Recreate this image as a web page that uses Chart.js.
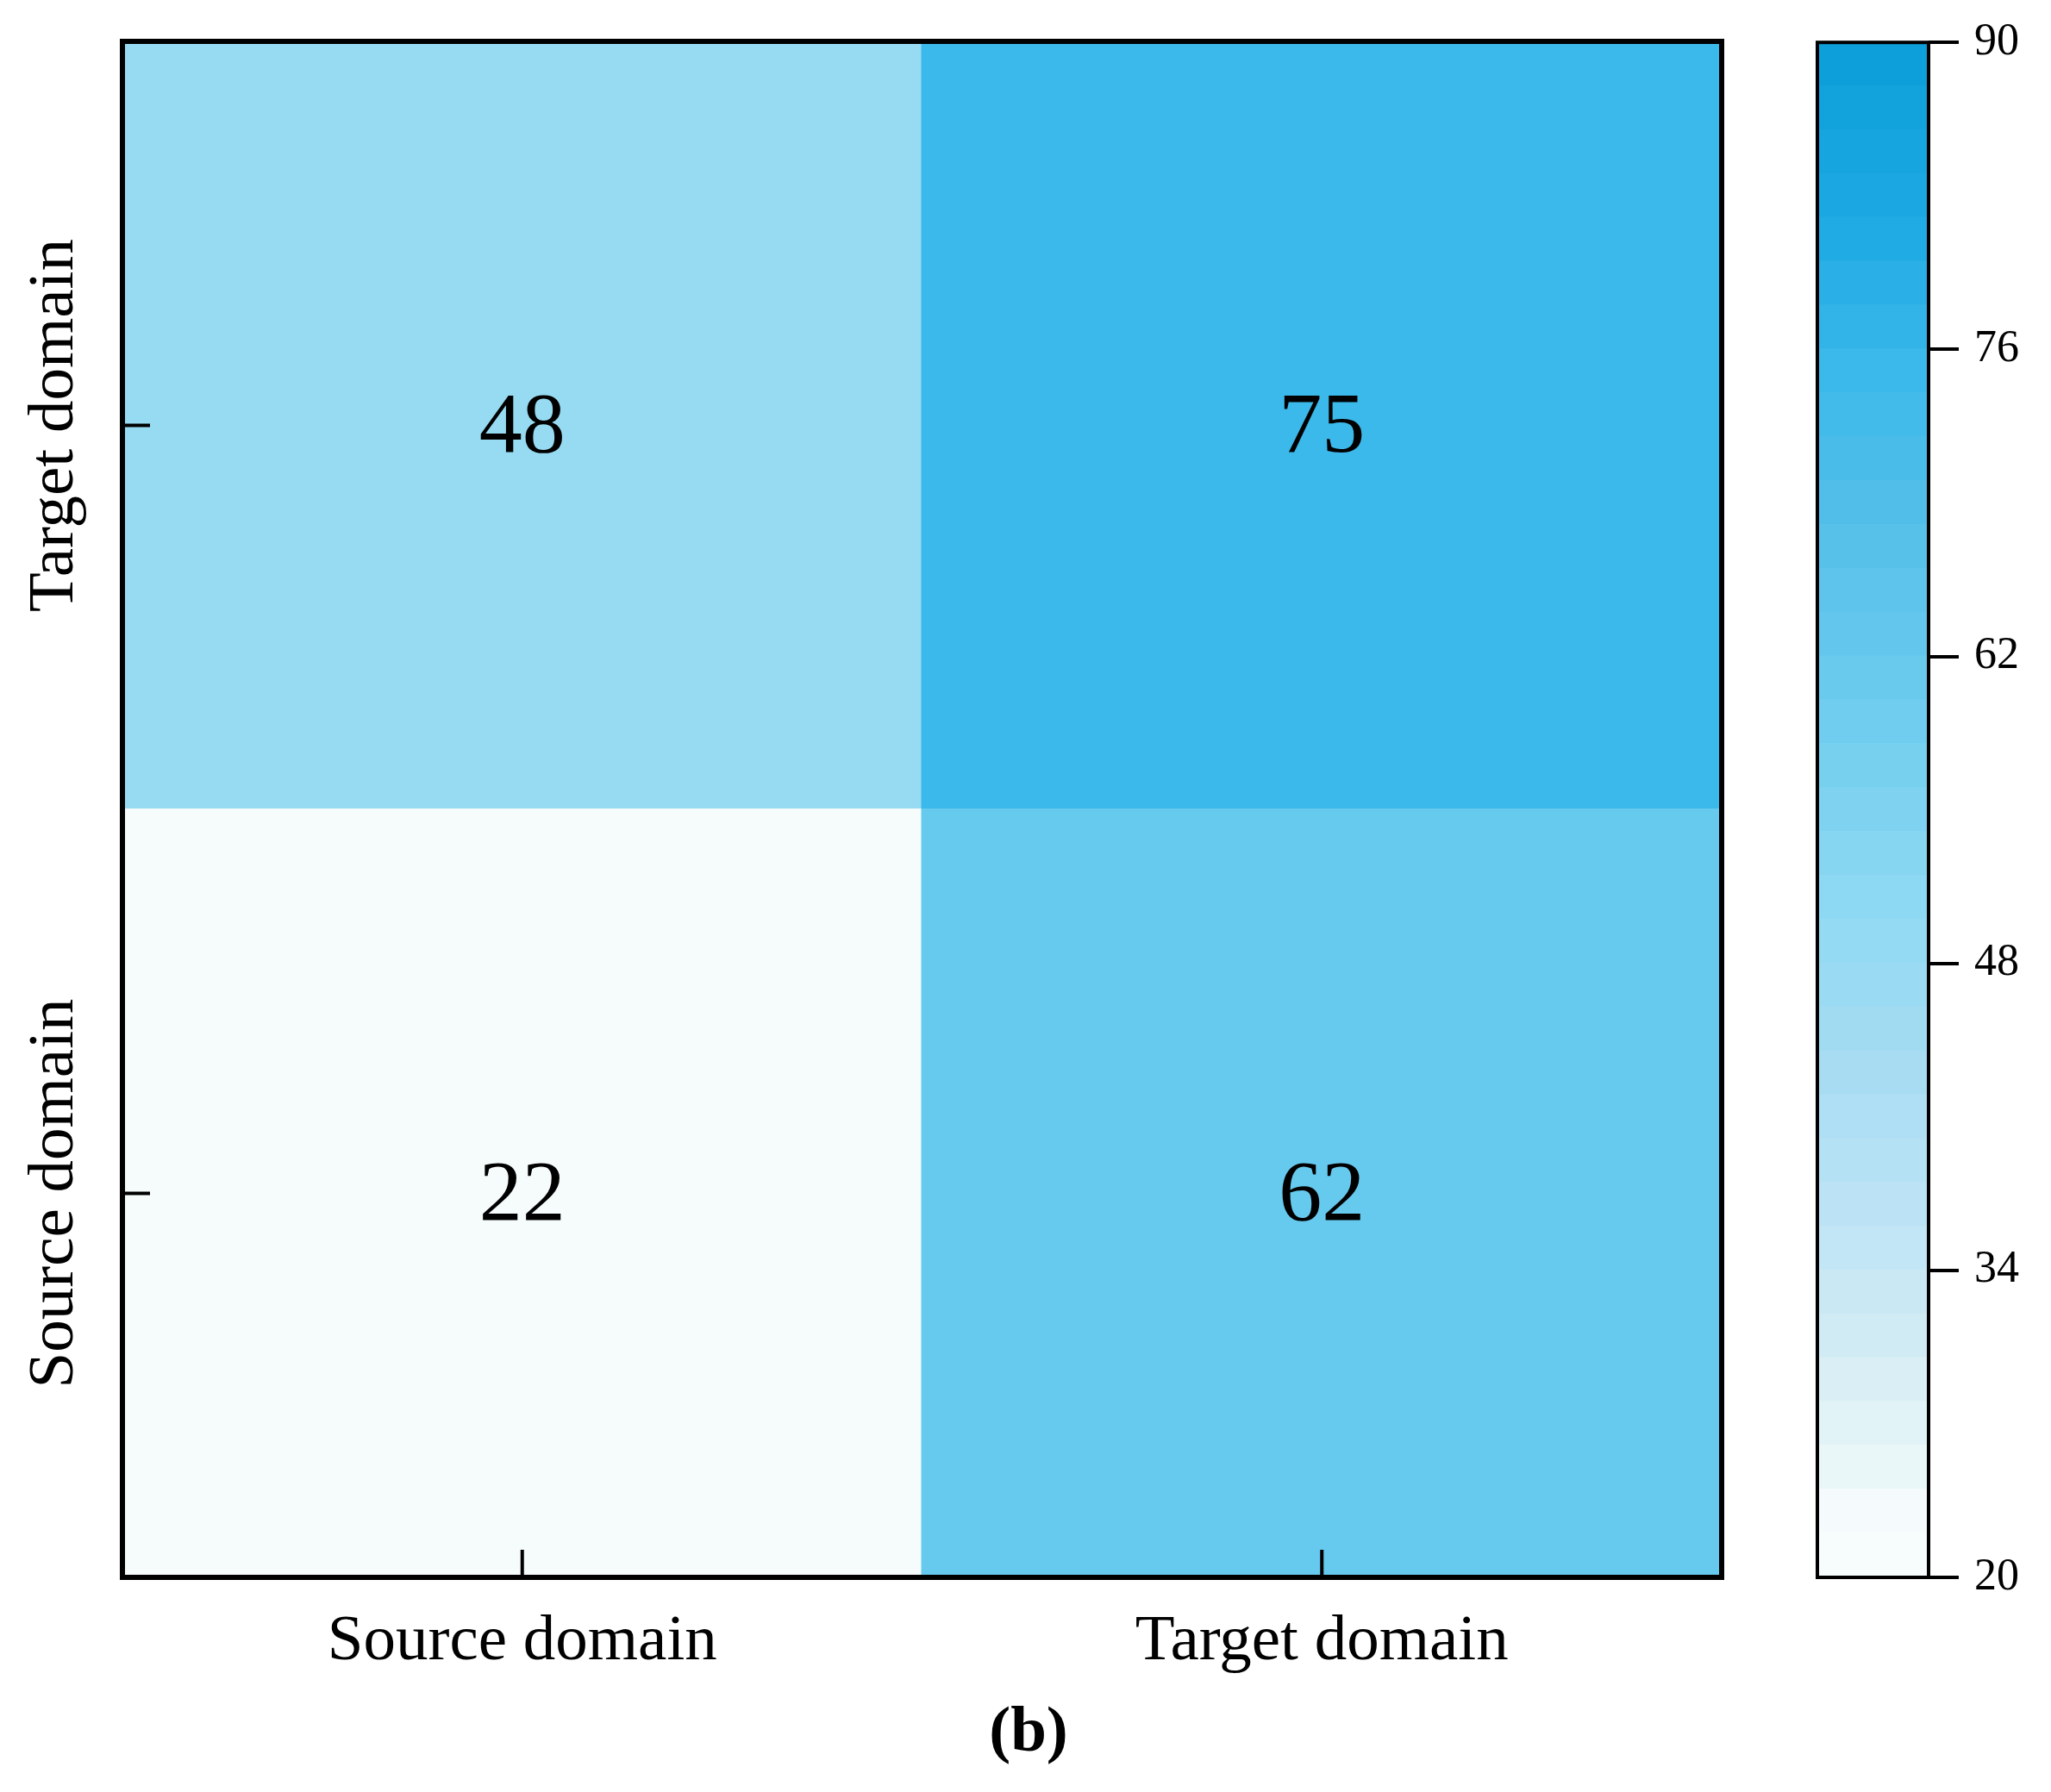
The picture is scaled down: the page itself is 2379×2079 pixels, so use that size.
<!DOCTYPE html>
<html>
<head>
<meta charset="utf-8">
<script src="https://cdn.jsdelivr.net/npm/chart.js@4.4.1/dist/chart.umd.min.js"></script>
<style>
  html, body { margin: 0; padding: 0; background: #fff; }
  #wrap { position: relative; width: 2379px; height: 2079px; }
  #heat { position: absolute; left: 0; top: 0; }
  #cbar { position: absolute; left: 2060px; top: 0; }
</style>
</head>
<body>
<div id="wrap">
  <canvas id="heat" width="2000" height="2079"></canvas>
  <canvas id="cbar" width="319" height="2079"></canvas>
</div>
<script>
// categories (x: left to right, y: bottom to top)
const xLabels = ['Source domain', 'Target domain'];
const yLabels = ['Source domain', 'Target domain'];
// cell values per row
const sourceRow = [22, 62];
const targetRow = [48, 75];
// colour bar
const cbarMin = 20;
const cbarMax = 90;
const cbarStep = 2;
const cbarTicks = [20, 34, 48, 62, 76, 90];
const cmapStops = [
  [20, '#F8FCFD'], [23, '#F5FBFC'], [26, '#E5F5F6'], [32, '#CCE9F4'], [38, '#B8E2F5'],
  [44, '#A3DBF2'], [48, '#97DBF3'], [54, '#82D4F0'], [62, '#66C9EE'],
  [68, '#55BFE9'], [75, '#3CB9EB'], [82, '#1DA9E3'], [90, '#0B9ED8']
];

const FONT = '"Liberation Serif", "Times New Roman", serif';

function hexToRgb(h) {
  return [parseInt(h.slice(1, 3), 16), parseInt(h.slice(3, 5), 16), parseInt(h.slice(5, 7), 16)];
}

function colorAt(v) {
  if (v <= cmapStops[0][0]) return cmapStops[0][1];
  for (let i = 1; i < cmapStops.length; i++) {
    const [v1, c1] = cmapStops[i];
    if (v <= v1) {
      const [v0, c0] = cmapStops[i - 1];
      const t = (v - v0) / (v1 - v0);
      const a = hexToRgb(c0), b = hexToRgb(c1);
      const m = a.map((x, k) => Math.round(x + (b[k] - x) * t));
      return 'rgb(' + m.join(',') + ')';
    }
  }
  return cmapStops[cmapStops.length - 1][1];
}

const rows = [sourceRow, targetRow];

// подписи, рамка и засечки внутрь
const heatDecor = {
  id: 'heatDecor',
  afterDatasetsDraw(chart) {
    const ctx = chart.ctx;
    const area = chart.chartArea;
    const xs = chart.scales.x;
    const ys = chart.scales.y;
    ctx.save();

    // значения в ячейках
    ctx.fillStyle = '#000';
    ctx.font = '100px ' + FONT;
    ctx.textAlign = 'center';
    ctx.textBaseline = 'middle';
    chart.data.datasets.forEach((ds, di) => {
      const meta = chart.getDatasetMeta(di);
      meta.data.forEach((bar, i) => {
        const cy = (bar.y + bar.base) / 2;
        ctx.fillText(String(rows[di][i]), bar.x, cy + 4);
      });
    });

    // рамка
    ctx.strokeStyle = '#000';
    ctx.lineWidth = 6;
    ctx.strokeRect(area.left, area.top, area.right - area.left, area.bottom - area.top);

    // засечки
    ctx.lineWidth = 4;
    xLabels.forEach((l, i) => {
      const px = xs.getPixelForValue(i);
      ctx.beginPath();
      ctx.moveTo(px, area.bottom);
      ctx.lineTo(px, area.bottom - 32);
      ctx.stroke();
    });
    yLabels.forEach((l, i) => {
      const py = ys.getPixelForValue(i + 0.5);
      ctx.beginPath();
      ctx.moveTo(area.left, py);
      ctx.lineTo(area.left + 32, py);
      ctx.stroke();
      // подпись по оси Y, повернутая
      ctx.save();
      ctx.translate(64, py);
      ctx.rotate(-Math.PI / 2);
      ctx.font = '75px ' + FONT;
      ctx.textAlign = 'center';
      ctx.textBaseline = 'middle';
      ctx.fillText(l, 0, 0);
      ctx.restore();
    });

    // подпись панели
    ctx.font = 'bold 75px ' + FONT;
    ctx.textAlign = 'center';
    ctx.textBaseline = 'middle';
    ctx.fillText('(b)', 1193, 2012);
    ctx.restore();
  }
};

new Chart(document.getElementById('heat'), {
  type: 'bar',
  data: {
    labels: xLabels,
    datasets: rows.map((r, i) => ({
      label: yLabels[i],
      data: r.map(() => 1),
      backgroundColor: r.map(colorAt),
      borderWidth: 0,
      barPercentage: 1,
      categoryPercentage: 1,
      inflateAmount: 1
    }))
  },
  options: {
    responsive: false,
    animation: false,
    layout: { padding: { top: 48, right: 3, left: 0, bottom: 0 } },
    plugins: { legend: { display: false }, tooltip: { enabled: false } },
    scales: {
      x: {
        stacked: true,
        grid: { display: false },
        border: { display: false },
        ticks: { color: '#000', font: { family: FONT, size: 75 }, padding: 22 },
        afterFit(s) { s.height = 249; }
      },
      y: {
        stacked: true,
        min: 0,
        max: 2,
        grid: { display: false },
        border: { display: false },
        ticks: { display: false },
        afterFit(s) { s.width = 142; }
      }
    }
  },
  plugins: [heatDecor]
});

// полосы цветовой шкалы
const bands = [];
for (let v = cbarMin; v < cbarMax; v += cbarStep) bands.push([v, v + cbarStep]);

const cbarFrame = {
  id: 'cbarFrame',
  afterDatasetsDraw(chart) {
    const ctx = chart.ctx;
    const a = chart.chartArea;
    ctx.save();
    ctx.strokeStyle = '#000';
    ctx.lineWidth = 4;
    ctx.strokeRect(a.left, a.top, a.right - a.left, a.bottom - a.top);
    ctx.restore();
  }
};

new Chart(document.getElementById('cbar'), {
  type: 'bar',
  data: {
    labels: ['c'],
    datasets: bands.map(b => ({
      data: [b],
      backgroundColor: colorAt((b[0] + b[1]) / 2),
      borderWidth: 0,
      grouped: false,
      barPercentage: 1,
      categoryPercentage: 1,
      inflateAmount: 1
    }))
  },
  options: {
    responsive: false,
    animation: false,
    layout: { padding: { top: 47, left: 48, right: 0, bottom: 249 } },
    plugins: { legend: { display: false }, tooltip: { enabled: false } },
    scales: {
      x: { display: false },
      y: {
        position: 'right',
        min: cbarMin,
        max: cbarMax,
        afterBuildTicks(s) { s.ticks = cbarTicks.map(v => ({ value: v })); },
        grid: { drawOnChartArea: false, drawTicks: true, tickLength: 35, lineWidth: 4, color: '#000' },
        border: { display: false },
        ticks: { color: '#000', font: { family: FONT, size: 52 }, padding: 18 },
        afterFit(s) { s.width = 142; }
      }
    }
  },
  plugins: [cbarFrame]
});
</script>
</body>
</html>
